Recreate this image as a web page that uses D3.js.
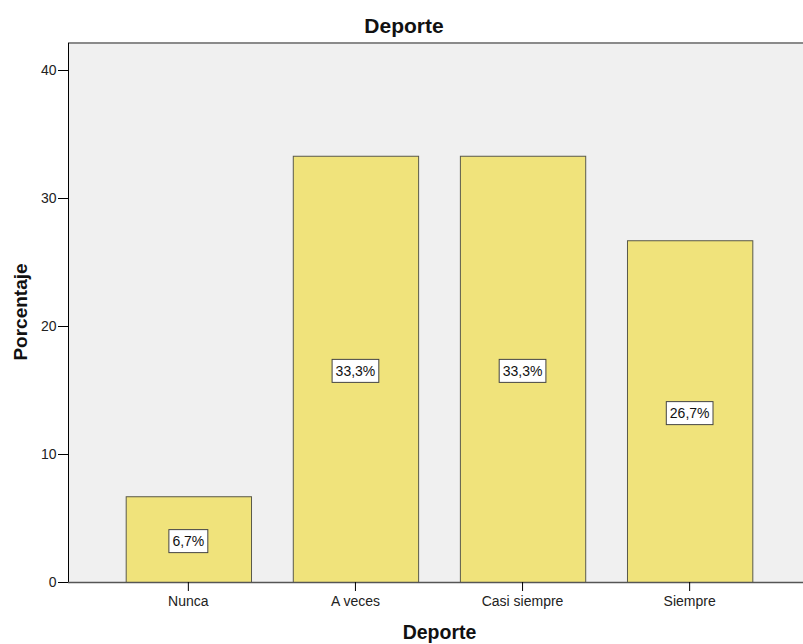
<!DOCTYPE html>
<html><head><meta charset="utf-8">
<script src="https://cdn.jsdelivr.net/npm/d3@7"></script>
<style>body{margin:0;background:#fff;}svg{display:block;font-family:"Liberation Sans",Arial,sans-serif;}</style>
</head><body>
<svg id="c" width="803" height="644"></svg>
<script>
const categories = ["Nunca", "A veces", "Casi siempre", "Siempre"];
const values = [6.7, 33.3, 33.3, 26.7];
const valueLabels = ["6,7%", "33,3%", "33,3%", "26,7%"];
const yTicks = [0, 10, 20, 30, 40];

const svg = d3.select("#c");
const L = 68, T = 43, R = 810, B = 582;
const FONT = "Liberation Sans, Arial, sans-serif";

const y = d3.scaleLinear().domain([0, 40]).range([B, 70]);
const x = d3.scaleBand().domain(categories).range([104.8, 773.2]).paddingInner(0.25).paddingOuter(0.125);

// plot background
svg.append("rect").attr("x", L).attr("y", T).attr("width", R - L).attr("height", B - T).attr("fill", "#f0f0f0");
svg.append("line").attr("x1", L).attr("x2", R).attr("y1", T).attr("y2", T).attr("stroke", "#8a8a8a").attr("stroke-width", 2);

// bars
svg.selectAll("rect.bar").data(values).enter().append("rect").attr("class", "bar")
  .attr("x", (d, i) => x(categories[i]) + 0.5)
  .attr("y", d => y(d) + 0.5)
  .attr("width", x.bandwidth())
  .attr("height", d => B - y(d))
  .attr("fill", "#f0e37b").attr("stroke", "#5a5a4a").attr("stroke-width", 1);

// y axis
const ya = svg.append("g").attr("transform", `translate(${L},0)`)
  .call(d3.axisLeft(y).tickValues(yTicks).tickSize(10).tickPadding(1.5));
ya.select(".domain").attr("d", `M0.5,${T}V${B}`).attr("stroke", "#000");
ya.selectAll(".tick line").attr("stroke", "#000");
ya.selectAll("text").attr("font-size", 14).attr("fill", "#222").attr("font-family", FONT);

// x axis
const xa = svg.append("g").attr("transform", `translate(0,${B})`)
  .call(d3.axisBottom(x).tickSize(9).tickPadding(5));
xa.select(".domain").attr("d", `M${L},0.5H${R}`).attr("stroke", "#555").attr("stroke-width", 1.5);
xa.selectAll(".tick line").attr("stroke", "#000");
xa.selectAll("text").attr("font-size", 14).attr("fill", "#222").attr("font-family", FONT);

// value labels
const lab = svg.selectAll("g.lab").data(values).enter().append("g").attr("class", "lab")
  .attr("transform", (d, i) => `translate(${x(categories[i]) + x.bandwidth() / 2},${y(d / 2) + 2})`);
lab.each(function(d, i) {
  const g = d3.select(this);
  const t = g.append("text").attr("text-anchor", "middle").attr("dy", "0.36em")
    .attr("font-size", 14).attr("fill", "#111").attr("font-family", FONT).text(valueLabels[i]);
  const w = t.node().getComputedTextLength();
  g.insert("rect", "text").attr("x", -w / 2 - 3.5).attr("y", -11.5).attr("width", w + 7).attr("height", 23)
    .attr("fill", "#fff").attr("stroke", "#444").attr("stroke-width", 1);
});

// titles
svg.append("text").attr("x", 404).attr("y", 33).attr("text-anchor", "middle").attr("font-family", FONT)
  .attr("font-size", 21).attr("font-weight", "bold").attr("fill", "#111").text("Deporte");
svg.append("text").attr("x", 439.5).attr("y", 638.5).attr("text-anchor", "middle").attr("font-family", FONT)
  .attr("font-size", 19.5).attr("font-weight", "bold").attr("fill", "#111").text("Deporte");
svg.append("text").attr("transform", "translate(27,312) rotate(-90)").attr("text-anchor", "middle").attr("font-family", FONT)
  .attr("font-size", 19).attr("font-weight", "bold").attr("fill", "#111").text("Porcentaje");
</script>
</body></html>
